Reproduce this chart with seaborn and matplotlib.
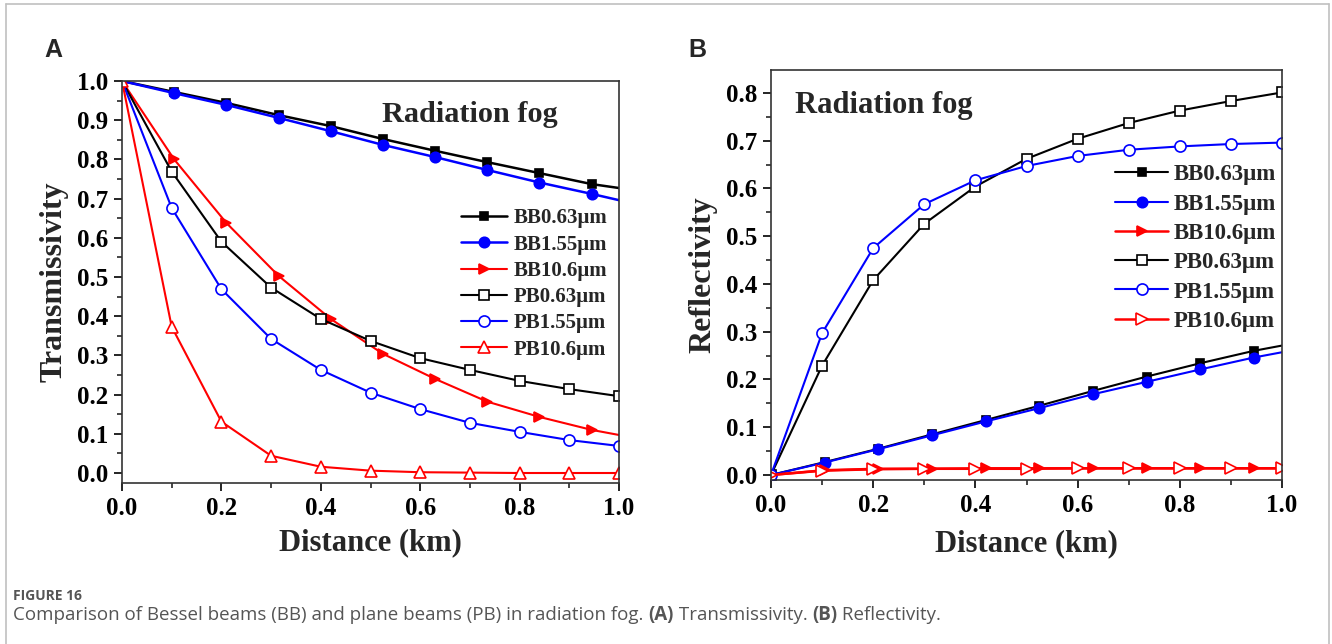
import matplotlib
matplotlib.use("Agg")
import matplotlib.pyplot as plt
from matplotlib.ticker import MultipleLocator, FormatStrFormatter
from matplotlib.lines import Line2D
import seaborn as sns

sns.set_theme(style="white")
plt.rcParams["font.family"] = ["Liberation Serif", "DejaVu Serif"]
plt.rcParams["font.weight"] = "bold"

# ---------------- data ----------------
x_bb = [0.0, 0.105, 0.21, 0.315, 0.42, 0.525, 0.63, 0.735, 0.84, 0.945, 1.0]
x_pb = [0.0, 0.1, 0.2, 0.3, 0.4, 0.5, 0.6, 0.7, 0.8, 0.9, 1.0]

# Panel A: transmissivity
t_bb063 = [1.0, 0.972, 0.944, 0.913, 0.885, 0.852, 0.822, 0.793, 0.765, 0.737, 0.727]
t_bb155 = [1.0, 0.969, 0.939, 0.906, 0.872, 0.837, 0.806, 0.773, 0.741, 0.712, 0.696]
t_bb106 = [1.0, 0.800, 0.638, 0.503, 0.393, 0.304, 0.240, 0.182, 0.143, 0.110, 0.097]
t_pb063 = [1.0, 0.769, 0.590, 0.473, 0.393, 0.337, 0.293, 0.263, 0.235, 0.214, 0.196]
t_pb155 = [1.0, 0.676, 0.469, 0.342, 0.263, 0.205, 0.163, 0.128, 0.105, 0.084, 0.069]
t_pb106 = [1.0, 0.373, 0.131, 0.044, 0.016, 0.006, 0.002, 0.001, 0.000, 0.000, 0.000]

# Panel B: reflectivity
r_bb063 = [0.0, 0.027, 0.055, 0.085, 0.115, 0.145, 0.176, 0.206, 0.234, 0.260, 0.271]
r_bb155 = [0.0, 0.026, 0.054, 0.083, 0.112, 0.140, 0.169, 0.195, 0.221, 0.246, 0.257]
r_bb106 = [0.0, 0.010, 0.013, 0.013, 0.014, 0.014, 0.014, 0.014, 0.014, 0.014, 0.014]
r_pb063 = [0.0, 0.229, 0.408, 0.526, 0.604, 0.662, 0.704, 0.737, 0.763, 0.783, 0.801]
r_pb155 = [0.0, 0.297, 0.475, 0.567, 0.617, 0.647, 0.668, 0.681, 0.688, 0.693, 0.696]
r_pb106 = [0.0, 0.009, 0.012, 0.013, 0.013, 0.013, 0.014, 0.014, 0.014, 0.014, 0.014]

labels = ["BB0.63\u03bcm", "BB1.55\u03bcm", "BB10.6\u03bcm",
          "PB0.63\u03bcm", "PB1.55\u03bcm", "PB10.6\u03bcm"]

caption_parts = [
    ("Comparison of Bessel beams (BB) and plane beams (PB) in radiation fog. ", "normal"),
    ("(A)", "bold"),
    (" Transmissivity. ", "normal"),
    ("(B)", "bold"),
    (" Reflectivity.", "normal"),
]

fig = plt.figure(figsize=(13.32, 6.44), dpi=100)

# outer light border (left, top, right)
bc = "#c0c0c0"
fig.add_artist(Line2D([6/1332, 6/1332], [0, 1 - 4/644], transform=fig.transFigure, color=bc, lw=1.2))
fig.add_artist(Line2D([6/1332, 1329/1332], [1 - 4/644, 1 - 4/644], transform=fig.transFigure, color=bc, lw=1.2))
fig.add_artist(Line2D([1329/1332, 1329/1332], [0, 1 - 4/644], transform=fig.transFigure, color=bc, lw=1.2))

axA = fig.add_axes([122/1332, 1 - 483/644, 497/1332, 402/644])
axB = fig.add_axes([771/1332, 1 - 480/644, 511/1332, 410/644])


def draw(ax, xs, ys, color, marker, filled, ms, label, every, lw=1.5):
    sns.lineplot(x=xs, y=ys, ax=ax, color=color, lw=lw, marker=marker,
                 markersize=ms,
                 markerfacecolor=color if filled else "white",
                 markeredgecolor=color, markeredgewidth=1.2,
                 markevery=every, errorbar=None, label=label, legend=False)


bb_every = list(range(1, 10))
pb_every = list(range(0, 11))

# Panel A
draw(axA, x_bb, t_bb063, "black", "s", True, 6, labels[0], bb_every, lw=1.8)
draw(axA, x_bb, t_bb155, "blue", "o", True, 7.5, labels[1], bb_every, lw=1.8)
draw(axA, x_bb, t_bb106, "red", ">", True, 7, labels[2], bb_every)
draw(axA, x_pb, t_pb063, "black", "s", False, 7, labels[3], pb_every[1:])
draw(axA, x_pb, t_pb155, "blue", "o", False, 8, labels[4], pb_every[1:])
draw(axA, x_pb, t_pb106, "red", "^", False, 8, labels[5], pb_every)

# Panel B
draw(axB, x_bb, r_bb063, "black", "s", True, 6, labels[0], bb_every)
draw(axB, x_bb, r_bb155, "blue", "o", True, 7.5, labels[1], bb_every)
draw(axB, x_bb, r_bb106, "red", ">", True, 7, labels[2], bb_every, lw=1.8)
draw(axB, x_pb, r_pb063, "black", "s", False, 7, labels[3], pb_every)
draw(axB, x_pb, r_pb155, "blue", "o", False, 8, labels[4], pb_every)
draw(axB, x_pb, r_pb106, "red", ">", False, 8, labels[5], pb_every, lw=1.8)

for ax in (axA, axB):
    ax.set_xlim(0, 1.0)
    ax.xaxis.set_major_locator(MultipleLocator(0.2))
    ax.xaxis.set_minor_locator(MultipleLocator(0.1))
    ax.yaxis.set_major_locator(MultipleLocator(0.1))
    ax.yaxis.set_minor_locator(MultipleLocator(0.05))
    ax.tick_params(which="major", direction="out", length=6, width=1.2,
                   bottom=True, left=True, top=False, right=False,
                   labelsize=18, pad=4, colors="black")
    ax.tick_params(which="minor", direction="out", length=3.5, width=1.2,
                   bottom=True, left=True, top=False, right=False)
    ax.xaxis.set_major_formatter(FormatStrFormatter("%.1f"))
    ax.yaxis.set_major_formatter(FormatStrFormatter("%.1f"))
    for lab in ax.get_xticklabels() + ax.get_yticklabels():
        lab.set_fontweight("bold")
    for s in ax.spines.values():
        s.set_color("#333333")
        s.set_linewidth(1.2)
    ax.grid(False)

axA.set_xlabel("Distance (km)", fontsize=22, fontweight="bold", labelpad=6)
axB.set_xlabel("Distance (km)", fontsize=22, fontweight="bold", labelpad=9)
axA.set_ylim(-0.0255, 1.0)
axB.set_ylim(-0.0105, 0.848)
axA.set_ylabel("Transmissivity", fontsize=23, fontweight="bold", labelpad=6)
axB.set_ylabel("Reflectivity", fontsize=23, fontweight="bold", labelpad=6)

axA.text(0.523, 0.898, "Radiation fog", transform=axA.transAxes, fontsize=21.8,
         fontweight="bold", va="baseline", ha="left")
axB.text(0.047, 0.895, "Radiation fog", transform=axB.transAxes, fontsize=22,
         fontweight="bold", va="baseline", ha="left")

axA.legend(loc="upper right", bbox_to_anchor=(0.976, 0.683), frameon=False,
           prop={"size": 15, "weight": "bold"}, handlelength=2.2,
           handletextpad=0.3, labelspacing=0.3, borderaxespad=0, borderpad=0)
axB.legend(loc="upper right", bbox_to_anchor=(0.988, 0.77), frameon=False,
           prop={"size": 16.5, "weight": "bold"}, handlelength=2.3,
           handletextpad=0.25, labelspacing=0.36, borderaxespad=0, borderpad=0)

fig.text(44/1332, 1 - 57/644, "A", fontsize=18, fontweight="bold",
         family="Liberation Sans", va="baseline", ha="left")
fig.text(688/1332, 1 - 57/644, "B", fontsize=18, fontweight="bold",
         family="Liberation Sans", va="baseline", ha="left")

fig.text(13/1332, 1 - 596/644, "FIGURE 16", fontsize=10, color="#555555",
         family="Open Sans", va="center", ha="left")

# caption with bold panel references, laid out piece by piece
fig.canvas.draw()
renderer = fig.canvas.get_renderer()
xpos = 13
for txt, wt in caption_parts:
    t = fig.text(xpos/1332, 1 - 615/644, txt, fontsize=13.5, color="#555555",
                 family="Open Sans", fontweight=wt, va="center", ha="left")
    bb = t.get_window_extent(renderer=renderer)
    xpos += bb.width

fig.savefig("out.png", dpi=100)
